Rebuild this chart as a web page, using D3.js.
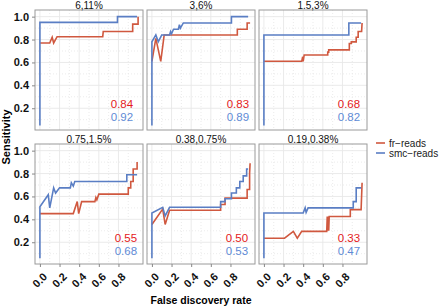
<!DOCTYPE html>
<html>
<head>
<meta charset="utf-8">
<script src="https://cdn.jsdelivr.net/npm/d3@7"></script>
<style>
  body { margin: 0; background: #fff; }
  svg { font-family: "Liberation Sans", Arial, sans-serif; }
</style>
</head>
<body>
<div id="chart"></div>
<script>
// panel titles (coverage levels)
const panels = ["6,11%", "3,6%", "1.5,3%", "0.75,1.5%", "0.38,0.75%", "0.19,0.38%"];

// [false discovery rate, sensitivity]
const frReads = [
  [[0,0.77],[0.10,0.77],[0.125,0.82],[0.14,0.77],[0.175,0.825],[0.64,0.825],[0.645,0.87],[0.945,0.87],[0.945,0.935],[1.0,0.935],[1.0,1.0]],
  [[0,0.61],[0.04,0.81],[0.09,0.61],[0.125,0.84],[0.87,0.84],[0.87,0.89],[0.97,0.89],[0.97,0.945],[1.0,0.945]],
  [[0,0.61],[0.385,0.61],[0.395,0.65],[0.40,0.61],[0.41,0.665],[0.65,0.665],[0.65,0.69],[0.66,0.69],[0.66,0.71],[0.87,0.71],[0.87,0.765],[0.89,0.765],[0.89,0.78],[0.94,0.78],[0.94,0.82],[0.96,0.82],[0.96,0.87],[0.995,0.87],[1.0,0.945]],
  [[0,0.45],[0.34,0.45],[0.38,0.555],[0.395,0.45],[0.425,0.555],[0.56,0.555],[0.57,0.59],[0.58,0.57],[0.60,0.62],[0.90,0.62],[0.90,0.675],[0.925,0.675],[0.925,0.73],[0.95,0.73],[0.95,0.84],[0.99,0.84],[0.99,0.90]],
  [[0,0.355],[0.11,0.49],[0.135,0.355],[0.18,0.48],[0.70,0.48],[0.70,0.53],[0.745,0.53],[0.745,0.585],[0.97,0.585],[0.97,0.66],[0.995,0.66],[0.995,0.80],[1.0,0.89]],
  [[0,0.235],[0.21,0.235],[0.30,0.295],[0.34,0.235],[0.385,0.295],[0.64,0.295],[0.645,0.425],[0.65,0.30],[0.655,0.425],[0.66,0.30],[0.665,0.425],[0.88,0.425],[0.88,0.485],[0.99,0.485],[1.0,0.72]]
];

const smcReads = [
  [[0,0.05],[0,0.95],[0.79,0.95],[0.79,1.0],[0.99,1.0]],
  [[0,0.05],[0,0.78],[0.04,0.84],[0.065,0.78],[0.10,0.84],[0.18,0.84],[0.19,0.87],[0.20,0.85],[0.22,0.89],[0.27,0.89],[0.28,0.93],[0.29,0.90],[0.32,0.945],[0.81,0.945],[0.81,1.0],[0.98,1.0]],
  [[0,0.05],[0,0.84],[0.865,0.84],[0.865,0.945],[0.99,0.945]],
  [[0,0.06],[0,0.51],[0.085,0.615],[0.10,0.50],[0.14,0.675],[0.16,0.63],[0.20,0.675],[0.31,0.675],[0.32,0.72],[0.34,0.69],[0.355,0.73],[0.885,0.73],[0.885,0.79],[0.99,0.79]],
  [[0,0.06],[0,0.455],[0.11,0.505],[0.135,0.43],[0.18,0.505],[0.70,0.505],[0.70,0.555],[0.745,0.555],[0.745,0.58],[0.81,0.58],[0.81,0.63],[0.86,0.63],[0.86,0.675],[0.895,0.675],[0.895,0.73],[0.93,0.73],[0.93,0.78],[0.965,0.78],[0.965,0.84],[0.98,0.84]],
  [[0,0.06],[0,0.455],[0.40,0.455],[0.42,0.50],[0.43,0.46],[0.45,0.50],[0.91,0.50],[0.91,0.555],[0.94,0.555],[0.94,0.675],[0.99,0.675]]
];

// area under curve labels
const frAuc = ["0.84", "0.83", "0.68", "0.55", "0.50", "0.33"];
const smcAuc = ["0.92", "0.89", "0.82", "0.68", "0.53", "0.47"];
const aucX = [0.95, 0.99, 0.98, 0.99, 0.98, 0.98];

const xTicks = [0, 0.2, 0.4, 0.6, 0.8];
const xMinor = [0.1, 0.3, 0.5, 0.7, 0.9];
const yTicks = [0.2, 0.4, 0.6, 0.8, 1.0];
const yMinor = [0.1, 0.3, 0.5, 0.7, 0.9];

const series = [
  { name: "fr\u2212reads", data: frReads, line: "#d0583f", text: "#e41a1c" },
  { name: "smc\u2212reads", data: smcReads, line: "#5a7ec4", text: "#5f8bd6" }
];

const W = 440, H = 306;
const pw = 108, ph = 120;
const colX = [35, 147, 259];
const rowY = [10, 144];

const x = d3.scaleLinear().domain([-0.05, 1.05]).range([0, pw]);
const y = d3.scaleLinear().domain([0.01, 1.058]).range([ph, 0]);

const svg = d3.select("#chart").append("svg")
  .attr("width", W).attr("height", H);

const line = d3.line().x(d => x(d[0])).y(d => y(d[1]));

panels.forEach((title, i) => {
  const col = i % 3, row = Math.floor(i / 3);
  const g = svg.append("g").attr("transform", `translate(${colX[col]},${rowY[row]})`);

  g.append("rect").attr("width", pw).attr("height", ph).attr("fill", "#fff");

  // grid
  g.selectAll(".xminor").data(xMinor).join("line")
    .attr("x1", d => x(d)).attr("x2", d => x(d)).attr("y1", 0).attr("y2", ph)
    .attr("stroke", "#e6e6e6").attr("stroke-width", 0.8).attr("stroke-dasharray", "1,2");
  g.selectAll(".yminor").data(yMinor).join("line")
    .attr("y1", d => y(d)).attr("y2", d => y(d)).attr("x1", 0).attr("x2", pw)
    .attr("stroke", "#e6e6e6").attr("stroke-width", 0.8).attr("stroke-dasharray", "1,2");
  g.selectAll(".xmajor").data(xTicks).join("line")
    .attr("x1", d => x(d)).attr("x2", d => x(d)).attr("y1", 0).attr("y2", ph)
    .attr("stroke", "#e8e8e8").attr("stroke-width", 0.9);
  g.selectAll(".ymajor").data(yTicks).join("line")
    .attr("y1", d => y(d)).attr("y2", d => y(d)).attr("x1", 0).attr("x2", pw)
    .attr("stroke", "#e8e8e8").attr("stroke-width", 0.9);

  // curves
  series.forEach(s => {
    g.append("path").attr("d", line(s.data[i]))
      .attr("fill", "none").attr("stroke", s.line).attr("stroke-width", 1.6);
  });

  // auc labels
  g.append("text").attr("x", x(aucX[i])).attr("y", y(0.2))
    .attr("text-anchor", "end").attr("font-size", 11.5).attr("fill", series[0].text)
    .text(frAuc[i]);
  g.append("text").attr("x", x(aucX[i])).attr("y", y(0.09))
    .attr("text-anchor", "end").attr("font-size", 11.5).attr("fill", series[1].text)
    .text(smcAuc[i]);

  g.append("rect").attr("width", pw).attr("height", ph)
    .attr("fill", "none").attr("stroke", "#9a9a9a").attr("stroke-width", 1);

  // strip title
  g.append("text").attr("x", pw / 2).attr("y", -0.8)
    .attr("text-anchor", "middle").attr("font-size", 10).attr("fill", "#111")
    .text(title);

  // y axis on left column
  if (col === 0) {
    const ya = g.append("g").call(d3.axisLeft(y).tickValues(yTicks).tickFormat(d3.format(".1f")).tickSize(3).tickPadding(3));
    ya.select(".domain").remove();
    ya.selectAll("line").attr("stroke", "#888");
    ya.selectAll("text").attr("font-size", 11).attr("font-weight", "bold").attr("fill", "#111")
      .attr("font-family", "Liberation Sans, Arial, sans-serif");
  }
  // x axis on bottom row
  if (row === 1) {
    const xa = g.append("g").attr("transform", `translate(0,${ph})`)
      .call(d3.axisBottom(x).tickValues(xTicks).tickFormat(d3.format(".1f")).tickSize(3));
    xa.select(".domain").remove();
    xa.selectAll("line").attr("stroke", "#888");
    xa.selectAll("text")
      .attr("font-size", 11).attr("font-weight", "bold").attr("fill", "#111")
      .attr("font-family", "Liberation Sans, Arial, sans-serif")
      .attr("text-anchor", "end")
      .attr("x", 0).attr("y", 0).attr("dy", null)
      .attr("transform", "translate(7.5,13.5) rotate(-45)");
  }
});

// axis titles
svg.append("text")
  .attr("transform", `translate(9.5,${(rowY[0] + rowY[1] + ph) / 2}) rotate(-90)`)
  .attr("text-anchor", "middle").attr("font-size", 11).attr("font-weight", "bold")
  .text("Sensitivity");
svg.append("text")
  .attr("x", (colX[0] + colX[2] + pw) / 2).attr("y", 304)
  .attr("text-anchor", "middle").attr("font-size", 10.5).attr("font-weight", "bold")
  .text("False discovery rate");

// legend
const legend = svg.append("g").attr("transform", "translate(376,143)");
series.forEach((s, k) => {
  legend.append("line").attr("x1", 0).attr("x2", 9).attr("y1", k * 10).attr("y2", k * 10)
    .attr("stroke", s.line).attr("stroke-width", 1.6);
  legend.append("text").attr("x", 13).attr("y", k * 10 + 3.5)
    .attr("font-size", 10).attr("fill", "#1a1a1a").text(s.name);
});
</script>
</body>
</html>
